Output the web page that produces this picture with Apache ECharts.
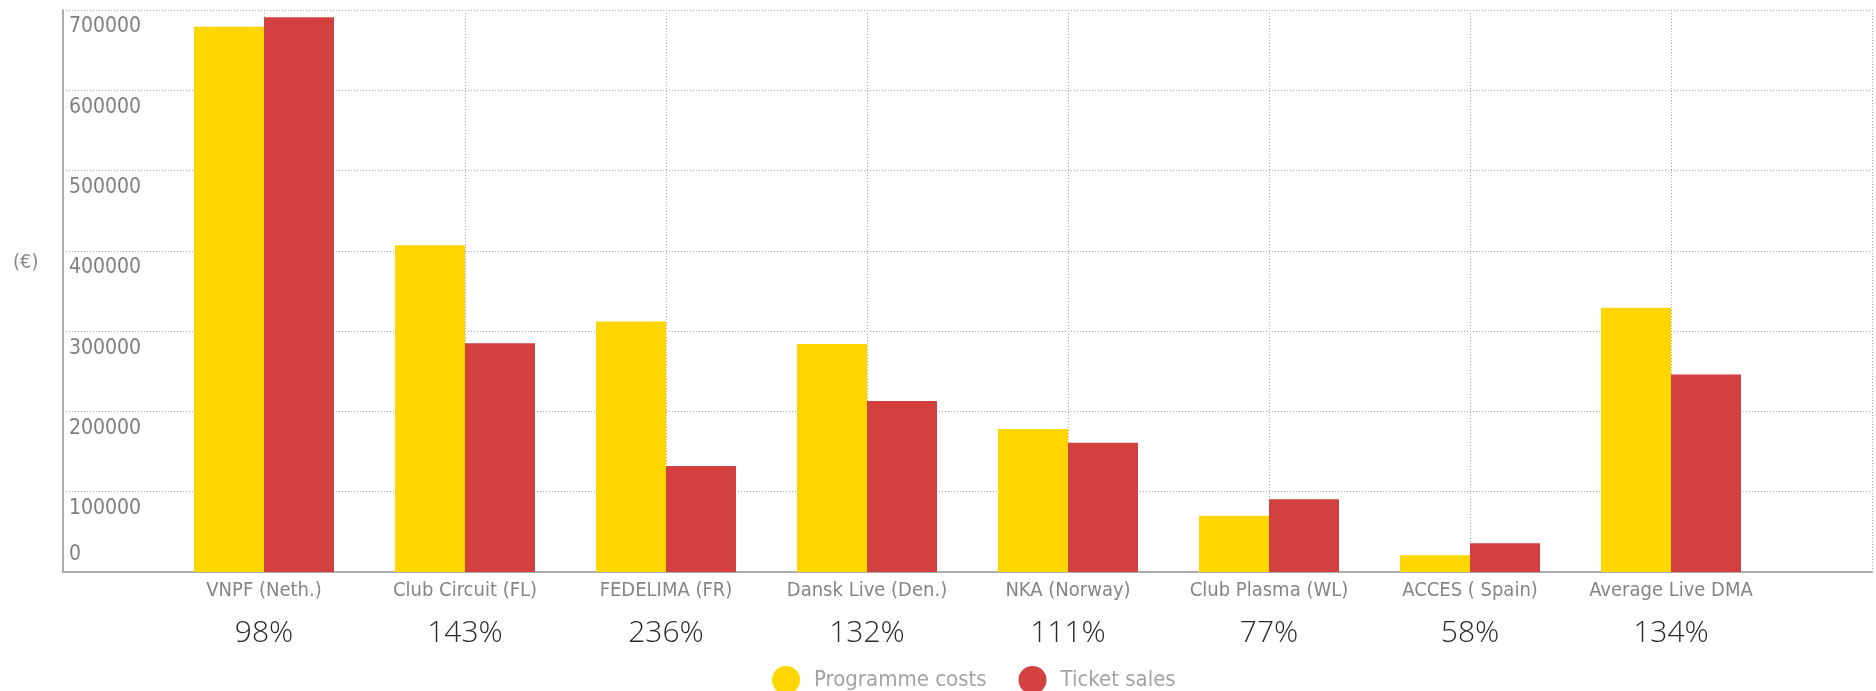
<!DOCTYPE html>
<html lang="en">
<head>
    <meta charset="UTF-8">
    <title>Programme costs vs ticket sales</title>
    <script src="https://cdn.jsdelivr.net/npm/echarts@6/dist/echarts.min.js"></script>
</head>
<body style="margin:0">

<div id="main" style="width: 1876px;height:691px;"></div>

</body>
<script>

    // data
    var organisations = ['VNPF (Neth.)', 'Club Circuit (FL)', 'FEDELIMA (FR)', 'Dansk Live (Den.)',
        'NKA (Norway)', 'Club Plasma (WL)', 'ACCES ( Spain)', 'Average Live DMA'];
    var programmeCosts = [679000, 407000, 312000, 284000, 178000, 70000, 21000, 329000];
    var ticketSales = [691000, 285000, 132000, 213000, 161000, 90500, 35700, 246000];
    var ratioLabels = ['98%', '143%', '236%', '132%', '111%', '77%', '58%', '134%'];
    var seriesNames = ['Programme costs', 'Ticket sales'];

    var narrowFont = "'Liberation Sans Narrow', 'DejaVu Sans Condensed', 'Roboto Condensed', sans-serif";

    // an empty slot at each end, so the bars sit on the inner ticks
    var axisData = [''].concat(organisations, ['']);
    function padded(list) {
        return ['-'].concat(list, ['-']);
    }

    var gridLine = {color: '#a8a8a8', type: [1, 2], width: 1};

    var mychart = echarts.init(document.getElementById('main'));

    var option = {
        animation: false,
        color: ['#ffd600', '#d24040'],
        title: {
            text: '(€)',
            left: 8,
            top: 248,
            textStyle: {
                fontFamily: narrowFont,
                fontSize: 20,
                fontWeight: 'normal',
                color: '#8a8a8a'
            }
        },
        grid: {
            left: 63,
            right: 4,
            top: 10,
            bottom: 119,
            outerBoundsMode: 'none',
            containLabel: false
        },
        legend: {
            data: seriesNames,
            left: 767,
            top: 661,
            icon: 'circle',
            itemWidth: 28,
            itemHeight: 28,
            itemGap: 32,
            textStyle: {
                fontFamily: narrowFont,
                fontSize: 22,
                color: '#a3a3a3',
                padding: [0, 0, 0, 9]
            }
        },
        xAxis: {
            type: 'category',
            boundaryGap: false,
            data: axisData,
            axisTick: {show: false},
            axisLine: {lineStyle: {color: '#acacac', width: 2}},
            splitLine: {show: true, lineStyle: gridLine},
            axisLabel: {
                interval: 0,
                margin: 8,
                formatter: function (value, index) {
                    if (value === '') {
                        return '';
                    }
                    return '{name|' + value + '}\n{pct|' + ratioLabels[index - 1] + '}';
                },
                rich: {
                    name: {
                        fontFamily: narrowFont,
                        fontSize: 20,
                        color: '#858585',
                        lineHeight: 22
                    },
                    pct: {
                        fontFamily: "'Open Sans', sans-serif",
                        fontWeight: 300,
                        fontSize: 30,
                        color: '#2a2a2a',
                        lineHeight: 62
                    }
                }
            }
        },
        yAxis: {
            type: 'value',
            min: 0,
            max: 700000,
            interval: 100000,
            axisLine: {show: true, lineStyle: {color: '#acacac', width: 2}},
            axisTick: {show: false},
            splitLine: {show: true, lineStyle: gridLine},
            axisLabel: {
                inside: true,
                margin: 6,
                fontFamily: narrowFont,
                fontSize: 21,
                lineHeight: 34,
                color: '#808080',
                // labels sit under their grid line, the zero one above the axis
                formatter: function (value) {
                    return value === 0 ? '0\n' : '\n' + value;
                }
            }
        },
        series: [
            {
                name: seriesNames[0],
                type: 'bar',
                barWidth: 70,
                barGap: '0%',
                data: padded(programmeCosts)
            },
            {
                name: seriesNames[1],
                type: 'bar',
                barWidth: 70,
                barGap: '0%',
                data: padded(ticketSales)
            }
        ]
    };

    mychart.setOption(option);

</script>
</html>
